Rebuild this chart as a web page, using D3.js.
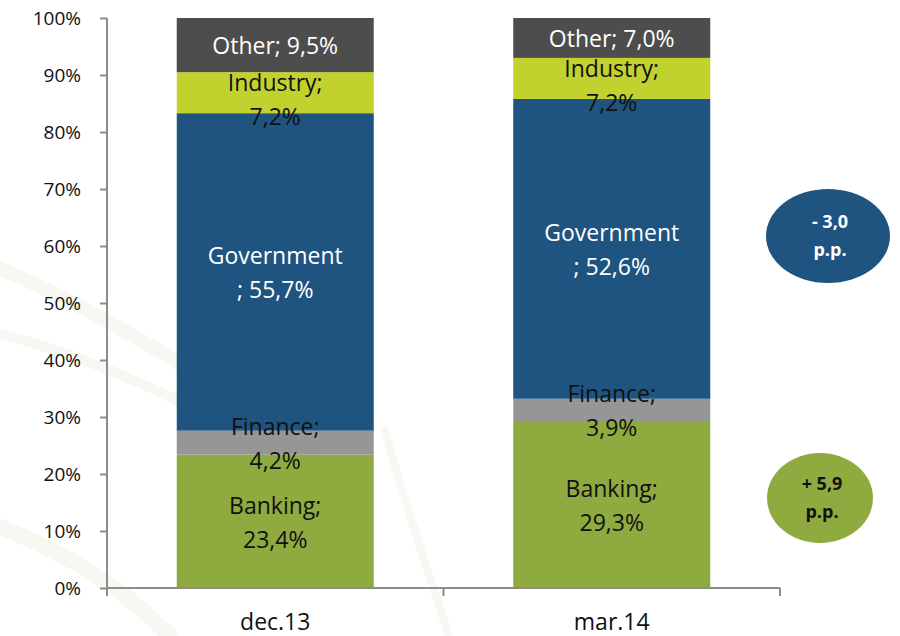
<!DOCTYPE html>
<html>
<head>
<meta charset="utf-8">
<script src="https://cdn.jsdelivr.net/npm/d3@7"></script>
<style>
  html, body { margin: 0; padding: 0; background: #fff; }
  svg { display: block; }
  text { font-family: "Open Sans", "DejaVu Sans", sans-serif; }
</style>
</head>
<body>
<svg id="chart" width="900" height="636"></svg>
<script>
// Portfolio structure by sector (share of total, %)
const periods = ["dec.13", "mar.14"];
const sectors = ["Banking", "Finance", "Government", "Industry", "Other"];
const dec13 = [23.4, 4.2, 55.7, 7.2, 9.5];
const mar14 = [29.3, 3.9, 52.6, 7.2, 7.0];
const yTicks = [0, 10, 20, 30, 40, 50, 60, 70, 80, 90, 100];

// Change between periods, shown in the callouts
const changeLabels = ["- 3,0", "+ 5,9"];
const changeSectors = ["Government", "Banking"];

const sectorColor = {
  Banking: "#8faa3e",
  Finance: "#969696",
  Government: "#1f5480",
  Industry: "#c1d22f",
  Other: "#4d4d4d"
};
const labelColor = {
  Banking: "#111", Finance: "#111", Government: "#fff", Industry: "#111", Other: "#fff"
};

const svg = d3.select("#chart");
const W = 900, H = 636;
const x0 = 107, x1 = 780;
const y0 = 588, y1 = 18;

// faint background swirls
const bg = svg.append("g").attr("fill", "none").attr("stroke-linecap", "round");
const swirl = [
  { d: "M-20,260 C80,300 220,380 330,470", w: 14 },
  { d: "M-20,330 C60,345 150,385 260,440", w: 10 },
  { d: "M-20,520 C40,540 110,575 170,636", w: 16 },
  { d: "M385,430 C400,490 425,560 450,640", w: 8 }
];
swirl.forEach(s => bg.append("path").attr("d", s.d)
  .attr("stroke", "#eef0e2").attr("stroke-width", s.w).attr("opacity", 0.45));

const x = d3.scaleBand().domain(periods).range([x0, x1]).paddingInner(0).paddingOuter(0);
const barW = 197;
const y = d3.scaleLinear().domain([0, 100]).range([y0, y1]);
const cxOf = p => x(p) + x.bandwidth() / 2;

const rows = periods.map((p, i) => {
  const vals = i === 0 ? dec13 : mar14;
  const obj = { period: p };
  sectors.forEach((s, j) => obj[s] = vals[j]);
  return obj;
});
const stacked = d3.stack().keys(sectors)(rows);

const fmt = v => d3.format(".1f")(v).replace(".", ",") + "%";

// bars
const layers = svg.append("g").selectAll("g").data(stacked).join("g")
  .attr("fill", d => sectorColor[d.key]);
layers.selectAll("rect").data(d => d).join("rect")
  .attr("x", d => cxOf(d.data.period) - barW / 2)
  .attr("width", barW)
  .attr("y", d => y(d[1]))
  .attr("height", d => y(d[0]) - y(d[1]));

// axes
const axisColor = "#8c8c8c";
const yAxis = svg.append("g").attr("transform", `translate(${x0},0)`)
  .call(d3.axisLeft(y).tickValues(yTicks).tickFormat(d => d + "%").tickSize(7).tickSizeOuter(0));
yAxis.select(".domain").attr("stroke", axisColor).attr("stroke-width", 2)
  .attr("d", `M0,${y1}V${y0 + 8}`);
yAxis.selectAll(".tick line").attr("stroke", axisColor).attr("stroke-width", 2);
yAxis.selectAll(".tick text").attr("fill", "#111").attr("font-size", 19)
  .attr("x", -26).attr("dy", "0.36em");

const xAxis = svg.append("g").attr("transform", `translate(0,${y0})`);
xAxis.append("line").attr("x1", x0).attr("x2", x1).attr("stroke", axisColor).attr("stroke-width", 2);
[x0, x0 + x.bandwidth(), x1].forEach(t => xAxis.append("line")
  .attr("x1", t).attr("x2", t).attr("y1", 0).attr("y2", 8)
  .attr("stroke", axisColor).attr("stroke-width", 2));
periods.forEach(p => xAxis.append("text")
  .attr("x", cxOf(p)).attr("y", 42)
  .attr("text-anchor", "middle").attr("font-size", 23).attr("fill", "#111").text(p));

// segment labels
const lineH = 34;
function labelLines(key, v) {
  const val = fmt(v);
  if (key === "Other") return [key + "; " + val];
  if (key === "Government") return [key, "; " + val];
  return [key + ";", val];
}
stacked.forEach(layer => {
  layer.forEach(d => {
    const lines = labelLines(layer.key, d[1] - d[0]);
    const cx = cxOf(d.data.period);
    const shift = layer.key === "Industry" ? 7 : 1;
    const cy = (y(d[0]) + y(d[1])) / 2 + shift;
    const t = svg.append("text").attr("text-anchor", "middle")
      .attr("font-size", 23).attr("fill", labelColor[layer.key]);
    lines.forEach((ln, k) => t.append("tspan")
      .attr("x", cx)
      .attr("y", cy + (k - (lines.length - 1) / 2) * lineH)
      .attr("dy", "0.36em").text(ln));
  });
});

// change callouts
const callouts = [
  { cx: 828, cy: 236, rx: 62, ry: 47 },
  { cx: 820, cy: 498, rx: 53, ry: 45 }
];
changeSectors.forEach((s, i) => {
  const c = callouts[i];
  svg.append("ellipse").attr("cx", c.cx).attr("cy", c.cy).attr("rx", c.rx).attr("ry", c.ry)
    .attr("fill", sectorColor[s]);
  const t = svg.append("text").attr("text-anchor", "middle").attr("font-weight", "bold")
    .attr("font-size", 18).attr("fill", s === "Government" ? "#fff" : "#111");
  [changeLabels[i], "p.p."].forEach((ln, k) => t.append("tspan")
    .attr("x", c.cx + 2).attr("y", c.cy - 14 + k * 28).attr("dy", "0.36em").text(ln));
});
</script>
</body>
</html>
